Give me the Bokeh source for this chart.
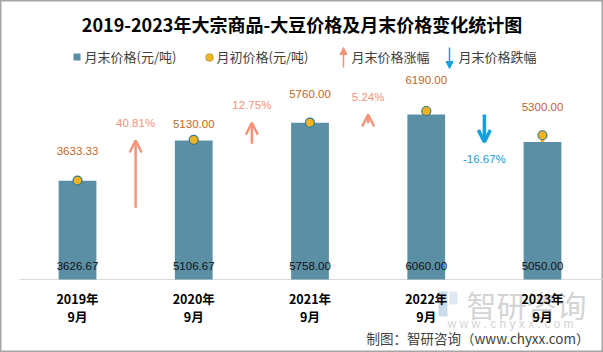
from bokeh.plotting import figure
from bokeh.models import (Range1d, ColumnDataSource, Label, BoxAnnotation, Arrow,
                          OpenHead, NormalHead)
from bokeh.core.properties import value
from bokeh.embed import file_html
from bokeh.resources import INLINE

# ---------------- data ----------------
categories = ["2019年\n9月", "2020年\n9月", "2021年\n9月", "2022年\n9月", "2023年\n9月"]
end_price = [3626.67, 5106.67, 5758.00, 6060.00, 5050.00]      # 月末价格(元/吨)
begin_price = [3633.33, 5130.00, 5760.00, 6190.00, 5300.00]    # 月初价格(元/吨)
change_pct = [40.81, 12.75, 5.24, -16.67]                      # 月末价格涨跌幅(%)

# ---------------- style ----------------
W, H = 603, 352
CJK = "Noto Sans CJK SC"
NUM = "Liberation Sans"
bar_color = "#5B8FA6"
dot_fill = "#F2B31E"
dot_line = "#337A8E"
dot_label_color = "#C2671C"
up_color = "#F4937A"
up_label_color = "#F19277"
down_color = "#13A0DC"
text_gray = "#404040"

px_per_cat = 116.25
first_center_px = 77
units_per_px = 36.74
baseline_from_bottom = 73
arrow_px_per_pct = 1.65
begin_label_dy = [-30, -16, -29, -31, -28]

x_start = -first_center_px / px_per_cat
x_end = x_start + W / px_per_cat
y_start = -baseline_from_bottom * units_per_px
y_end = y_start + H * units_per_px

p = figure(width=W, height=H, x_range=Range1d(x_start, x_end),
           y_range=Range1d(y_start, y_end), x_axis_location=None,
           y_axis_location=None, min_border=0, toolbar_location=None,
           output_backend="svg", title=None)
p.background_fill_color = "white"
p.border_fill_color = "white"
p.outline_line_color = "#a6a6a6"
p.outline_line_width = 2
p.grid.visible = False
p.xgrid.grid_line_color = None
p.ygrid.grid_line_color = None

idx = list(range(len(categories)))
src = ColumnDataSource(dict(
    x=idx, end=end_price, begin=begin_price, cat=categories,
    end_lbl=[f"{v:.2f}" for v in end_price],
    begin_lbl=[f"{v:.2f}" for v in begin_price],
    dy=begin_label_dy,
))

def scr_box(l, r, t, b, **kw):
    return BoxAnnotation(left=l, right=r, top=H - t, bottom=H - b,
                         left_units="screen", right_units="screen",
                         top_units="screen", bottom_units="screen", **kw)

# watermark (underlay)
p.add_layout(Label(x=526, y=H - 303, x_units="screen", y_units="screen",
                   text="智研咨询", text_font=CJK, text_font_size="30px",
                   text_color="#d4d4d4", text_align="center",
                   text_baseline="middle", level="underlay"))
p.add_layout(Label(x=510, y=H - 323, x_units="screen", y_units="screen",
                   text="w w w . c h y x x . c o m", text_font=NUM,
                   text_font_size="12px", text_color="#d4d4d4",
                   text_align="center", text_baseline="middle", level="underlay"))
p.add_layout(scr_box(438, 447, 291, 316, fill_color="#c9dcee", fill_alpha=1,
                     line_color=None, level="underlay"))
p.add_layout(scr_box(449, 457, 291, 304, fill_color="#dfe9f3", fill_alpha=1,
                     line_color=None, level="underlay"))

# baseline
p.segment(x0=[-0.5], y0=[0], x1=[x_end], y1=[0], line_color="#d9d9d9", line_width=1)

# bars
p.vbar(x="x", top="end", width=0.325, fill_color=bar_color, line_color=None, source=src)
# connector between month-end and month-begin price
p.vbar(x="x", bottom="end", top="begin", width=0.03, fill_color=dot_fill,
       line_color=None, source=src)
# month-begin dots
p.scatter(x="x", y="begin", size=9, marker="circle", fill_color=dot_fill,
          line_color=dot_line, line_width=1.2, source=src)

# labels
p.text(x="x", y=0, text="end_lbl", y_offset=-14, text_align="center",
       text_baseline="middle", text_font=value(NUM), text_font_size="11.5px",
       text_color="#111111", source=src)
p.text(x="x", y="begin", text="begin_lbl", y_offset="dy", text_align="center",
       text_baseline="middle", text_font=value(NUM), text_font_size="11.5px",
       text_color=dot_label_color, source=src)
p.text(x="x", y=0, text="cat", y_offset=28, text_align="center",
       text_baseline="middle", text_font=value(CJK), text_font_size="12.5px",
       text_font_style="bold", text_color="#000000", text_line_height=0.97,
       source=src)

# change arrows
arrow_units_per_pct = arrow_px_per_pct * units_per_px
up = dict(x=[], tail=[], tip=[], lbl=[])
down = dict(x=[], tail=[], tip=[], lbl=[])
for i, pct in enumerate(change_pct):
    tip = end_price[i + 1]
    tail = tip - pct * arrow_units_per_pct
    d = up if pct >= 0 else down
    d["x"].append(i + 0.5)
    d["tail"].append(tail)
    d["tip"].append(tip)
    d["lbl"].append(f"{pct:.2f}%")
up_src = ColumnDataSource(up)
down_src = ColumnDataSource(down)

p.add_layout(Arrow(x_start="x", y_start="tail", x_end="x", y_end="tip",
                   source=up_src, line_color=up_color, line_width=2.5,
                   end=OpenHead(size=12, line_color=up_color, line_width=2.5)))
p.add_layout(Arrow(x_start="x", y_start="tail", x_end="x", y_end="tip",
                   source=down_src, line_color=down_color, line_width=3.5,
                   end=OpenHead(size=12, line_color=down_color, line_width=3.5)))
p.text(x="x", y="tip", text="lbl", y_offset=-18, text_align="center",
       text_baseline="middle", text_font=value(NUM), text_font_size="11.5px",
       text_color=up_label_color, source=up_src)
p.text(x="x", y="tip", text="lbl", y_offset=17, text_align="center",
       text_baseline="middle", text_font=value(NUM), text_font_size="11.5px",
       text_color=down_color, source=down_src)

# title
p.add_layout(Label(x=W / 2, y=H - 23, x_units="screen", y_units="screen",
                   text="2019-2023年大宗商品-大豆价格及月末价格变化统计图",
                   text_font=CJK, text_font_size="18px", text_font_style="bold",
                   text_color="#000000", text_align="center", text_baseline="middle"))

# legend
p.add_layout(scr_box(73, 80, 53, 60, fill_color=bar_color, fill_alpha=1, line_color=None))
p.add_layout(scr_box(205, 213, 53, 61, fill_color=dot_fill, fill_alpha=1,
                     line_color=dot_line, line_width=1, border_radius=4))
p.add_layout(Arrow(x_start=343, y_start=H - 67, x_end=343, y_end=H - 47,
                   start_units="screen", end_units="screen",
                   line_color=up_color, line_width=1.5,
                   end=NormalHead(size=7, fill_color=up_color, line_color=up_color)))
p.add_layout(Arrow(x_start=449, y_start=H - 47, x_end=449, y_end=H - 68,
                   start_units="screen", end_units="screen",
                   line_color=down_color, line_width=1.5,
                   end=NormalHead(size=7, fill_color=down_color, line_color=down_color)))
for lx, txt in [(84, "月末价格(元/吨)"), (216, "月初价格(元/吨)"),
                (351, "月末价格涨幅"), (458, "月末价格跌幅")]:
    p.add_layout(Label(x=lx, y=H - 56, x_units="screen", y_units="screen",
                       text=txt, text_font=CJK, text_font_size="13px",
                       text_color=text_gray, text_align="left",
                       text_baseline="middle"))

# footer
p.add_layout(Label(x=589, y=H - 337, x_units="screen", y_units="screen",
                   text="制图：智研咨询（www.chyxx.com）", text_font=CJK,
                   text_font_size="13.5px", text_color=text_gray,
                   text_align="right", text_baseline="middle"))

open("out.html", "w").write(file_html(p, INLINE))
